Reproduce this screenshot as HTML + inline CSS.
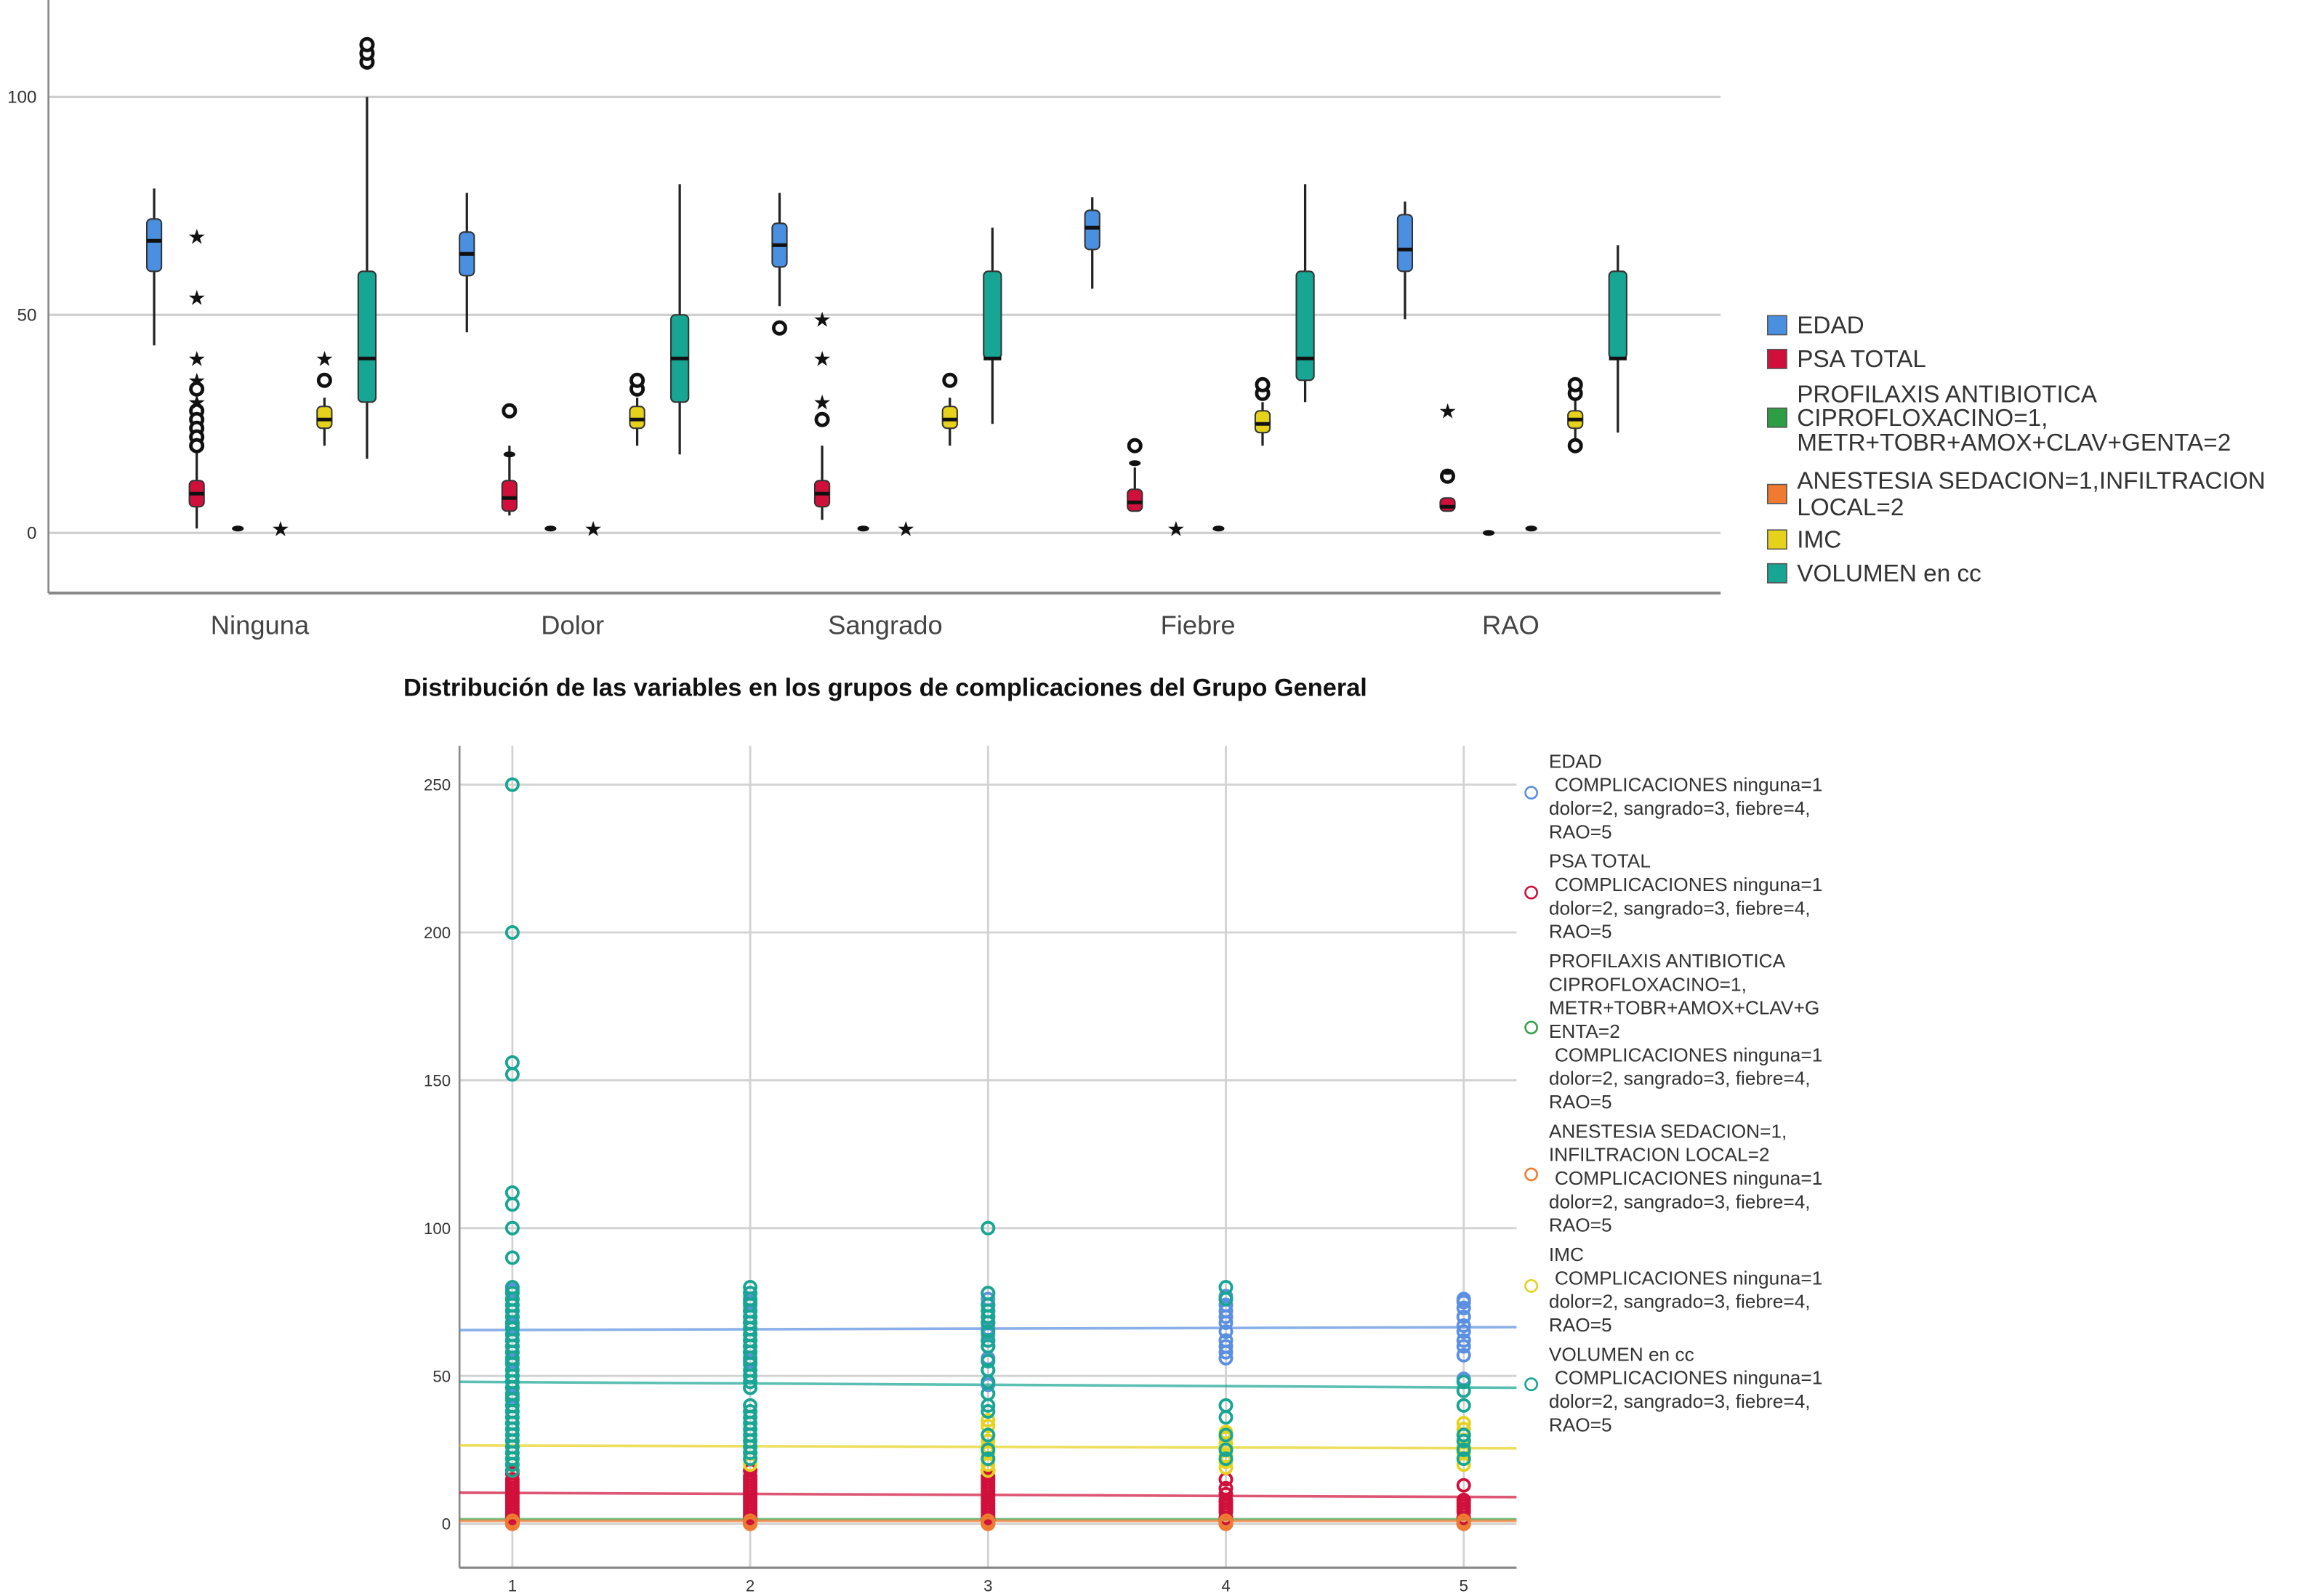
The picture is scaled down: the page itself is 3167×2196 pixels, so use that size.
<!DOCTYPE html>
<html><head><meta charset="utf-8"><style>
html,body{margin:0;padding:0;background:#fff;}
svg{display:block;font-family:"Liberation Sans",sans-serif;}
</style></head><body>
<svg id="chart" width="3167" height="2196" viewBox="0 0 1568 1087.2" xmlns="http://www.w3.org/2000/svg">
<g id="topg"></g>
<text x="603" y="474" text-anchor="middle" font-size="17" font-weight="bold" fill="#111">Distribución de las variables en los grupos de complicaciones del Grupo General</text>
<g id="botg"></g>
</svg>
<script>
// ---------- TOP BOX PLOT DATA ----------
const categories = ["Ninguna","Dolor","Sangrado","Fiebre","RAO"];
const topTicks = [0,50,100];
const seriesNames = ["EDAD","PSA TOTAL","PROFILAXIS ANTIBIOTICA|CIPROFLOXACINO=1,|METR+TOBR+AMOX+CLAV+GENTA=2","ANESTESIA SEDACION=1,INFILTRACION|LOCAL=2","IMC","VOLUMEN en cc"];
const boxColors = ["#4a8fe0","#d0103a","#2e9e44","#f07a30","#e6d21a","#17a594"];
const edadBox = [[43,60,67,72,79],[46,59,64,69,78],[52,61,66,71,78],[56,65,70,74,77],[49,60,65,73,76]];
const psaBox = [[1,6,9,12,19],[4,5,8,12,20],[3,6,9,12,20],[5,5,7,10,15],[5,5,6,8,8]];
const imcBox = [[20,24,26,29,31],[20,24,26,29,31],[20,24,26,29,31],[20,23,25,28,30],[20,24,26,28,31]];
const volBox = [[17,30,40,60,100],[18,30,40,50,80],[25,40,40,60,70],[30,35,40,60,80],[23,40,40,60,66]];
const boxSets = [edadBox, psaBox, null, null, imcBox, volBox];
const outGroups = [0,0,0,0,0,0,0,0,0,0,0,0,0,0,0,0,0,0, 1,1,1,1,1,1, 2,2,2,2,2,2,2,2, 3,3,3,3,3,3, 4,4,4,4,4,4,4,4];
const outSeries = [1,1,1,1,1,1,1,1,1,2,3,4,4,5,5,5,1,1, 1,2,3,4,4,1, 0,1,1,1,1,2,3,4, 1,2,3,4,4,1, 1,1,2,3,4,4,4,1];
const outValues = [68,54,40,35,28,26,24,22,20,1,1,35,40,108,110,112,30,33, 28,1,1,33,35,18, 47,26,30,40,49,1,1,35, 20,1,1,32,34,16, 13,28,0,1,20,32,34,14];
const outKinds = ["s","s","s","s","c","c","c","c","c","d","s","c","s","c","c","c","s","c", "c","d","s","c","c","d", "c","c","s","s","s","d","s","c", "c","s","d","c","c","d", "c","s","d","d","c","c","c","d"];

// ---------- BOTTOM SCATTER DATA ----------
const scatterGroups = [1,2,3,4,5];
const botTicks = [0,50,100,150,200,250];
const scNames = ["EDAD","PSA TOTAL","PROFILAXIS","ANESTESIA","IMC","VOLUMEN"];
const scColors = ["#5b8fe0","#d0103a","#3aa04a","#f07a30","#e6d21a","#17a594"];
const edadPts = [[43,46,50,55,58,60,62,64,66,67,68,70,72,74,76,79],[46,50,55,58,60,62,64,66,68,70,72,75,78],[47,52,56,60,62,64,66,68,70,72,74,76,78],[56,58,60,62,65,68,70,72,74,76,77],[49,57,60,62,65,67,70,73,75,76]];
const psaPts = [[0,1,2,3,4,5,6,7,8,9,10,11,12,13,14,15,17],[0,1,2,3,4,5,6,7,8,9,10,11,12,13,14,15,16,18],[0,1,2,3,4,5,6,7,8,9,10,11,12,13,14,15,16,18],[0,2,4,5,6,7,8,10,12,15],[0,2,4,5,6,7,8,13]];
const profPts = [[1,2],[1,2],[1,2],[1,2],[1,2]];
const anestPts = [[0,1],[0,1],[0,1],[0,1],[0,1]];
const imcPts = [[18,20,22,24,26,28],[20,22,24,26,28],[18,20,22,24,26,28,30,33,35],[19,21,23,25,27,29,31],[20,22,24,26,28,30,32,34]];
const volPts = [[250,200,156,152,112,108,100,90,80,78,76,74,72,70,68,66,64,62,60,58,56,54,52,50,48,46,44,42,40,38,36,34,32,30,28,26,24,22,20,18],[80,78,76,74,72,70,68,66,64,62,60,58,56,54,52,50,48,46,40,38,36,34,32,30,28,26,24,22],[100,78,74,72,70,68,65,62,60,55,52,48,44,40,38,30,25,22],[80,76,40,36,30,25,22],[48,45,40,30,28,25,22]];
const scSets = [edadPts, psaPts, profPts, anestPts, imcPts, volPts];
const fitStart = [65.5,10.5,1.5,1,26.5,48];
const fitEnd = [66.5,9,1.5,1,25.5,46];
const legendLines = [
 ["EDAD","COMPLICACIONES ninguna=1","dolor=2, sangrado=3, fiebre=4,","RAO=5"],
 ["PSA TOTAL","COMPLICACIONES ninguna=1","dolor=2, sangrado=3, fiebre=4,","RAO=5"],
 ["PROFILAXIS ANTIBIOTICA","CIPROFLOXACINO=1,","METR+TOBR+AMOX+CLAV+G","ENTA=2","COMPLICACIONES ninguna=1","dolor=2, sangrado=3, fiebre=4,","RAO=5"],
 ["ANESTESIA SEDACION=1,","INFILTRACION LOCAL=2","COMPLICACIONES ninguna=1","dolor=2, sangrado=3, fiebre=4,","RAO=5"],
 ["IMC","COMPLICACIONES ninguna=1","dolor=2, sangrado=3, fiebre=4,","RAO=5"],
 ["VOLUMEN en cc","COMPLICACIONES ninguna=1","dolor=2, sangrado=3, fiebre=4,","RAO=5"]
];

const NS="http://www.w3.org/2000/svg";
function mk(parent,tag,attrs,text){const e=document.createElementNS(NS,tag);for(const k in attrs)e.setAttribute(k,attrs[k]);if(text!==undefined)e.textContent=text;parent.appendChild(e);return e;}

const yTop = v => 363 - v*2.97;
const xCat = i => 177 + 213*i;
const offs = [-72,-43,-15,14,44,73];
const xBox = (g,s) => xCat(g)+offs[s];
const topG = document.getElementById('topg');
topTicks.forEach(t=>{
  let l=mk(topG,'line',{x1:33,x2:1172,y1:yTop(t),y2:yTop(t),stroke:'#cfcfcf','stroke-width':1.6});
  
  
  let tx=mk(topG,'text',{x:25,y:yTop(t)+4,'text-anchor':'end','font-size':12,fill:'#333'},String(t));
  
  
});
let ax=mk(topG,'line',{x1:33,x2:33,y1:0,y2:404,stroke:'#888','stroke-width':1.3});


ax=mk(topG,'line',{x1:33,x2:1172,y1:404,y2:404,stroke:'#888','stroke-width':2});


categories.forEach((c,i)=>{
  let t=mk(topG,'text',{x:xCat(i),y:432,'text-anchor':'middle','font-size':18,fill:'#444'},c);
  
  
});
boxSets.forEach((set,s)=>{
  if(!set) return;
  set.forEach((b,g)=>{
    const x=xBox(g,s), w=(s===5?12:10);
    let wl=mk(topG,'line',{x1:x,x2:x,y1:yTop(b[0]),y2:yTop(b[4]),stroke:'#222','stroke-width':1.6});
    
    
    let r=mk(topG,'rect',{x:x-w/2,y:yTop(b[3]),width:w,height:Math.max(2,yTop(b[1])-yTop(b[3])),rx:3,fill:boxColors[s],stroke:'#333','stroke-width':1});
    
    
    let m=mk(topG,'line',{x1:x-w/2,x2:x+w/2,y1:yTop(b[2]),y2:yTop(b[2]),stroke:'#111','stroke-width':2.5});
    
    
  });
});
outValues.forEach((v,i)=>{
  const x=xBox(outGroups[i],outSeries[i]), y=yTop(v), k=outKinds[i];
  let e;
  if(k==='c') e=mk(topG,'circle',{cx:x,cy:y,r:4,fill:'#fff',stroke:'#111','stroke-width':2.4});
  else if(k==='s') e=mk(topG,'text',{x:x,y:y+5,'text-anchor':'middle','font-size':14,fill:'#111'},'★');
  else e=mk(topG,'ellipse',{cx:x,cy:y,rx:4,ry:2,fill:'#111'});
  
  
});
const legY=[[222],[245],[269,285,302],[328,346],[368],[391]];
const swY=[222,245,285,337,368,391];
seriesNames.forEach((n,s)=>{
  const parts=n.split('|');
  let sq=mk(topG,'rect',{x:1204,y:swY[s]-7,width:13,height:13,fill:boxColors[s],stroke:'#555','stroke-width':0.8});
  
  
  parts.forEach((p,j)=>{
    let t=mk(topG,'text',{x:1224,y:legY[s][j]+5,'font-size':16.5,fill:'#333'},p);
    
    
  });
});

const botG=document.getElementById('botg');
const AX0=313;
const yB = v => 1038 - v*2.014;
const xB = g => 349 + 162*(g-1);
botTicks.forEach(t=>{
  let l=mk(botG,'line',{x1:AX0,x2:1033,y1:yB(t),y2:yB(t),stroke:'#d2d2d2','stroke-width':1.4});
  
  
  let tx=mk(botG,'text',{x:307,y:yB(t)+4,'text-anchor':'end','font-size':11,fill:'#333'},String(t));
  
  
});
scatterGroups.forEach(g=>{
  let l=mk(botG,'line',{x1:xB(g),x2:xB(g),y1:508,y2:1068,stroke:'#d2d2d2','stroke-width':1.4});
  
  
  let t=mk(botG,'text',{x:xB(g),y:1084,'text-anchor':'middle','font-size':11,fill:'#333'},String(g));
  
  
});
ax=mk(botG,'line',{x1:AX0,x2:AX0,y1:508,y2:1068,stroke:'#888','stroke-width':1.3});


ax=mk(botG,'line',{x1:AX0,x2:1033,y1:1068,y2:1068,stroke:'#888','stroke-width':1.6});


fitStart.forEach((v,s)=>{
  let l=mk(botG,'line',{x1:AX0,x2:1033,y1:yB(v),y2:yB(fitEnd[s]),stroke:scColors[s],'stroke-width':1.8,opacity:0.7});
  
  
});
[2,1,3,4,0,5].forEach(s=>{
  scSets[s].forEach((arr,gi)=>{
    arr.forEach(v=>{
      let c=mk(botG,'circle',{cx:xB(scatterGroups[gi]),cy:yB(v),r:4,fill:'none',stroke:scColors[s],'stroke-width':1.9});
      
      
    });
  });
});
const blockStart=[518,586,654,770,854,922];
const circY=[540,608,700,800,876,943];
legendLines.forEach((lines,s)=>{
  let c=mk(botG,'circle',{cx:1043,cy:circY[s],r:4,fill:'none',stroke:scColors[s],'stroke-width':1.3});
  
  
  lines.forEach((ln,j)=>{
    const ind=(ln.indexOf('COMPLICACIONES')===0)?4:0;
    let t=mk(botG,'text',{x:1055+ind,y:blockStart[s]+j*16+5,'font-size':13,fill:'#333'},ln);
    
    
  });
});
</script>
</body></html>
